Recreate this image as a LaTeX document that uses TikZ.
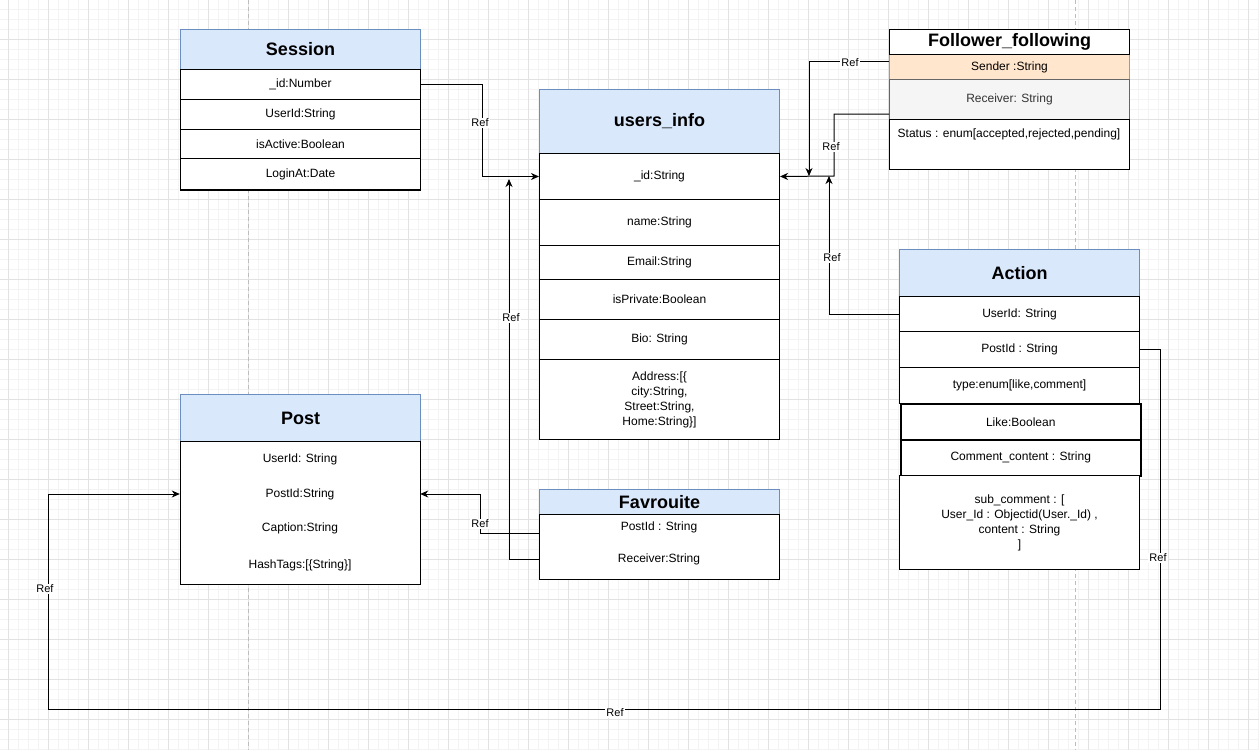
\documentclass[tikz,border=0pt]{standalone}
\usepackage{fontspec}
\setmainfont{Liberation Sans}
\usetikzlibrary{arrows.meta}
\definecolor{hdrfill}{HTML}{DAE8FC}
\definecolor{hdrdraw}{HTML}{6C8EBF}
\definecolor{sendfill}{HTML}{FFE6CC}
\definecolor{senddraw}{HTML}{D79B00}
\definecolor{recvfill}{HTML}{F5F5F5}
\definecolor{recvdraw}{HTML}{666666}
\definecolor{recvtext}{HTML}{333333}
\definecolor{gridminor}{HTML}{F3F3F3}
\definecolor{gridmajor}{HTML}{E2E2E2}
\definecolor{pageline}{HTML}{BDBDBD}
\begin{document}
\begin{tikzpicture}[x=1pt,y=-1pt,
  hdr/.style={draw=hdrdraw, fill=hdrfill, line width=1pt, anchor=north west, inner sep=0pt, minimum width=240pt, font=\fontsize{18}{21}\selectfont\bfseries},
  fld/.style={draw=black, fill=white, line width=1pt, anchor=north west, inner sep=0pt, minimum width=240pt, align=center, font=\fontsize{12}{15}\selectfont},
  txt/.style={inner sep=0pt, minimum width=240pt, align=center, font=\fontsize{12}{15}\selectfont},
  conn/.style={draw=black, line width=1pt, -{Stealth[length=8pt,width=7pt,inset=2.5pt]}},
  reflabel/.style={fill=white, inner sep=1pt, font=\fontsize{11}{13}\selectfont}
]
% background and grid
\fill[white] (0,0) rectangle (1259,750);
\useasboundingbox (0,0) rectangle (1259,750);
\foreach \gx in {8,18,...,1258} {\draw[gridminor, line width=0.8pt] (\gx,0) -- (\gx,750);}
\foreach \gy in {9,19,...,749} {\draw[gridminor, line width=0.8pt] (0,\gy) -- (1259,\gy);}
\foreach \gx in {8,48,...,1248} {\draw[gridmajor, line width=0.8pt] (\gx,0) -- (\gx,750);}
\foreach \gy in {39,79,...,719} {\draw[gridmajor, line width=0.8pt] (0,\gy) -- (1259,\gy);}
\draw[pageline, line width=0.8pt, dash pattern=on 4pt off 3pt] (248,0) -- (248,750);
\draw[pageline, line width=0.8pt, dash pattern=on 4pt off 3pt] (1075,0) -- (1075,750);

% Session
\node[hdr, minimum height=40pt] (sh) at (180,29) {Session};
\node[fld, minimum height=30pt] (s1) at (180,69) {\_id:Number};
\node[fld, minimum height=30pt] (s2) at (180,99) {UserId:String};
\node[fld, minimum height=29pt] (s3) at (180,129) {isActive:Boolean};
\node[fld, minimum height=31pt] (s4) at (180,158) {LoginAt:Date};
\draw[line width=2pt] (s4.south west) -- (s4.south east);

% users_info
\node[hdr, minimum height=64pt] (uh) at (539,89) {users\_info};
\node[fld, minimum height=46pt] (u1) at (539,153) {\_id:String};
\node[fld, minimum height=46pt] (u2) at (539,199) {name:String};
\node[fld, minimum height=34pt] (u3) at (539,245) {Email:String};
\node[fld, minimum height=40pt] (u4) at (539,279) {isPrivate:Boolean};
\node[fld, minimum height=40pt] (u5) at (539,319) {Bio: String};
\node[fld, minimum height=80pt] (u6) at (539,359) {Address:[\{\\city:String,\\Street:String,\\Home:String\}]};

% Follower_following
\node[fld, draw=senddraw, fill=sendfill, minimum height=25pt] (fs) at (889,54) {Sender :String};
\node[fld, minimum height=25pt, font=\fontsize{18}{21}\selectfont\bfseries] (fh) at (889,29) {Follower\_following};
\node[fld, draw=recvdraw, fill=recvfill, text=recvtext, minimum height=40pt] (fr) at (889,79) {Receiver: String};
\node[fld, minimum height=50pt] (fst) at (889,119) {};
\node[txt] (fstt) at (1009,134) {Status : enum[accepted,rejected,pending]};

% Action
\node[hdr, minimum height=47pt] (ah) at (899,249) {Action};
\node[fld, minimum height=35pt] (a1) at (899,296) {UserId: String};
\node[fld, minimum height=36pt] (a2) at (899,331) {PostId : String};
\node[fld, minimum height=36pt] (a3) at (899,367) {type:enum[like,comment]};
\node[fld, minimum height=36pt, line width=1.5pt] (a4) at (900,403) {Like:Boolean};
\node[fld, minimum height=36pt, line width=1.5pt] (a5) at (900,439) {Comment\_content : String};
\node[fld, minimum height=94pt] (a6) at (899,475) {sub\_comment : [\\User\_Id : Objectid(User.\_Id) ,\\content : String\\]};

% Post
\node[hdr, minimum height=47pt] (ph) at (180,394) {Post};
\node[fld, minimum height=143pt] (pb) at (180,441) {};
\node[txt] (p1) at (300,459) {UserId: String};
\node[txt] (p2) at (300,494) {PostId:String};
\node[txt] (p3) at (300,528) {Caption:String};
\node[txt] (p4) at (300,565) {HashTags:[\{String\}]};

% Favrouite
\node[hdr, minimum height=25pt] (vh) at (539,489) {Favrouite};
\node[fld, minimum height=65pt] (vb) at (539,514) {};
\node[txt] (v1) at (659,527) {PostId : String};
\node[txt] (v2) at (659,559) {Receiver:String};

% connector end points
\coordinate (favP) at (539,533);
\coordinate (favR) at (539,559);
\coordinate (jA) at (509,179);
\coordinate (ffS) at (889,61);
\coordinate (jB) at (809,176);
\coordinate (ffR) at (889,114);
\coordinate (jC) at (834,176);
\coordinate (jD) at (829,176);
\coordinate (jF) at (48,709);

% connectors
\draw[conn] (s1.east) -- ++(61,0) |- (u1.west);
\draw[conn] (favR) -| (jA);
\draw[conn] (favP) -- ++(-59,0) |- (p2.east);
\draw[conn] (ffS) -| (jB);
\draw[conn] (ffR) -| (jC) -- (u1.east);
\draw[conn] (a1.west) -| (jD);
\draw[conn] (a2.east) -- ++(20,0) |- (jF) |- (p2.west);

% labels
\node[reflabel] (r1) at (480,123) {Ref};
\node[reflabel] (r2) at (511,318) {Ref};
\node[reflabel] (r3) at (480,524) {Ref};
\node[reflabel] (r4) at (850,63) {Ref};
\node[reflabel] (r5) at (831,147) {Ref};
\node[reflabel] (r6) at (832,258) {Ref};
\node[reflabel] (r7) at (1158,558) {Ref};
\node[reflabel] (r8) at (615,713) {Ref};
\node[reflabel] (r9) at (45,589) {Ref};
\end{tikzpicture}
\end{document}
